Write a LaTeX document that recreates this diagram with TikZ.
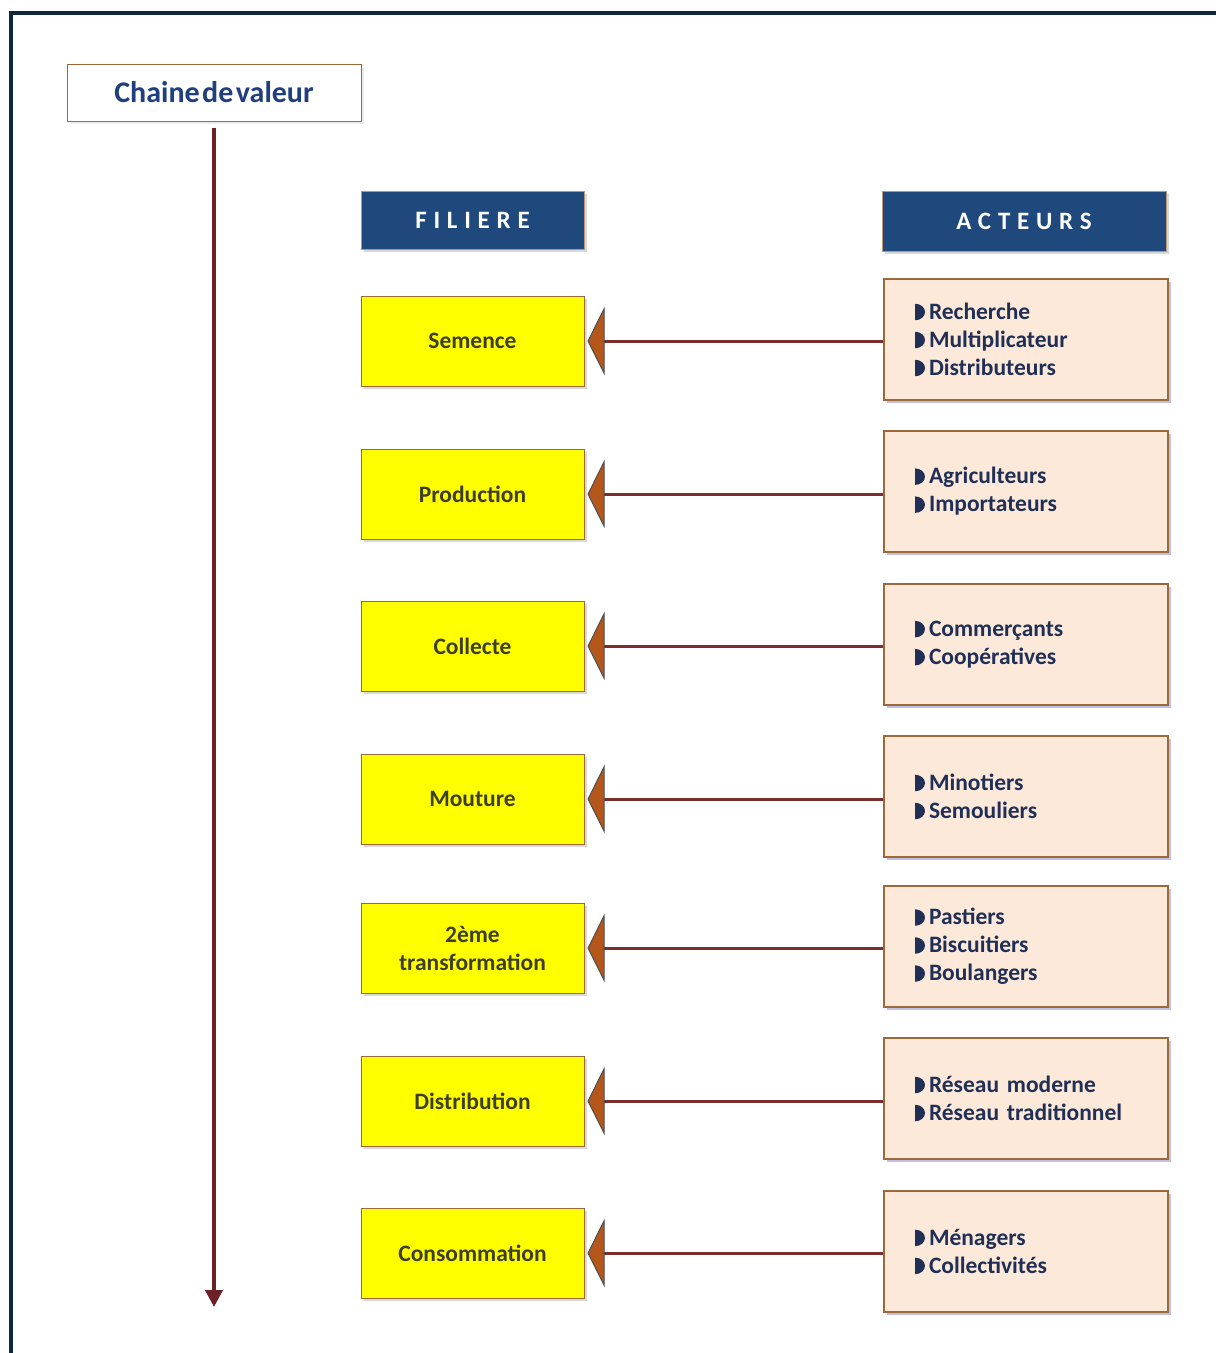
\documentclass[tikz,border=0pt]{standalone}
\usepackage{fontspec}
\setmainfont{Carlito}
\usetikzlibrary{arrows.meta,shadows}

\definecolor{framec}{HTML}{0F2640}
\definecolor{navyfill}{HTML}{1F497D}
\definecolor{titleblue}{HTML}{1F3F7F}
\definecolor{boxedge}{HTML}{9C6A3A}
\definecolor{yel}{HTML}{FFFF00}
\definecolor{yeltext}{HTML}{3E3E24}
\definecolor{peach}{HTML}{FDE9D9}
\definecolor{acttext}{HTML}{1F2F55}
\definecolor{linkc}{HTML}{7B2E2E}
\definecolor{axisc}{HTML}{6B2226}
\definecolor{tipfill}{HTML}{B5561A}

% half-disc bullet in front of each actor
\newcommand\hbul{\tikz[baseline=0pt,x=1pt,y=1pt]\fill[acttext] (0,-1)--(0,15.5) arc[start angle=90,end angle=-90,x radius=10,y radius=8.25]--cycle;\hspace{4pt}}

\tikzset{
  titlebox/.style={draw=boxedge, line width=1pt, fill=white, minimum width=294pt,
    minimum height=57pt, inner sep=0pt, font=\fontsize{30}{34}\selectfont\bfseries,
    text=titleblue, drop shadow={opacity=0.15, shadow xshift=3pt, shadow yshift=-3pt}},
  headbox/.style={draw=boxedge!70, line width=0.8pt, fill=navyfill, inner sep=0pt,
    text=white, font=\fontsize{25}{28}\selectfont\bfseries\addfontfeature{LetterSpace=27},
    drop shadow={opacity=0.3, shadow xshift=3pt, shadow yshift=-3pt}},
  stagebox/.style={draw=boxedge, line width=1pt, fill=yel, minimum width=223pt,
    minimum height=90pt, inner sep=0pt, align=center, text=yeltext,
    font=\fontsize{23.5}{28}\selectfont\bfseries,
    drop shadow={opacity=0.3, shadow xshift=3pt, shadow yshift=-3pt}},
  actorbox/.style={draw=boxedge, line width=1.2pt, fill=peach, minimum height=121pt,
    inner xsep=31pt, inner ysep=0pt, text width=222pt, align=left, text=acttext,
    font=\fontsize{23.5}{28}\selectfont\bfseries,
    drop shadow={opacity=0.35, shadow xshift=3pt, shadow yshift=-3pt, fill=gray!60!blue}},
  link/.style={draw=linkc, line width=3pt, shorten >=3pt,
    -{Triangle[length=17pt,width=68pt,fill=tipfill,color=black!70,line width=1pt]}},
  axis/.style={draw=axisc, line width=4pt, -{Triangle[length=17pt,width=17pt]}}
}

\begin{document}
\begin{tikzpicture}[x=1pt,y=-1pt]
\useasboundingbox (0,0) rectangle (1216,1353);
\fill[white] (0,0) rectangle (1216,1353);

% outer frame (left and top edges)
\draw[framec, line width=4.5pt] (11,1360) -- (11,13) -- (1222,13);

% title and value-chain axis
\node[titlebox] (title) at (214,92.5) {Chaine\hspace{2.5pt}de\hspace{2.5pt}valeur};
\coordinate (axisend) at (214,1307);
\draw[axis] (title.south -| axisend) ++(0,6) coordinate (axisstart) -- (axisend);

% column headers
\node[headbox, minimum width=223pt, minimum height=58pt] (hfil) at (472.5,220) {FILIERE};
\node[headbox, minimum width=284pt, minimum height=60pt] (hact) at (1024,221) {ACTEURS};

% stages of the chain
\node[stagebox] (f1) at (472.5,341) {Semence};
\node[stagebox] (f2) at (472.5,494) {Production};
\node[stagebox] (f3) at (472.5,646) {Collecte};
\node[stagebox] (f4) at (472.5,799) {Mouture};
\node[stagebox] (f5) at (472.5,948) {2ème\\transformation};
\node[stagebox] (f6) at (472.5,1101) {Distribution};
\node[stagebox] (f7) at (472.5,1253) {Consommation};

% actors at each stage
\node[actorbox] (a1) at (1026,339.5) {\hbul Recherche\\\hbul Multiplicateur\\\hbul Distributeurs};
\node[actorbox] (a2) at (1026,491.5) {\hbul Agriculteurs\\\hbul Importateurs};
\node[actorbox] (a3) at (1026,644.5) {\hbul Commerçants\\\hbul Coopératives};
\node[actorbox] (a4) at (1026,796.5) {\hbul Minotiers\\\hbul Semouliers};
\node[actorbox] (a5) at (1026,946.5) {\hbul Pastiers\\\hbul Biscuitiers\\\hbul Boulangers};
\node[actorbox] (a6) at (1026,1098.5) {\hbul Réseau moderne\\\hbul Réseau traditionnel};
\node[actorbox] (a7) at (1026,1251.5) {\hbul Ménagers\\\hbul Collectivités};

% links from actors to stages
\foreach \i in {1,...,7} {
  \draw[link] (a\i.west |- f\i.east) -- (f\i.east);
}
\end{tikzpicture}
\end{document}
